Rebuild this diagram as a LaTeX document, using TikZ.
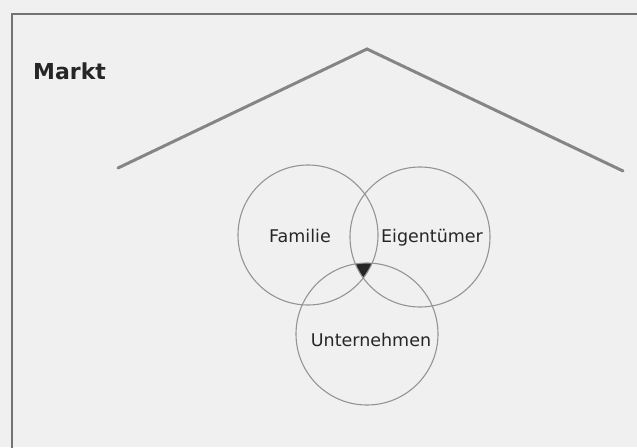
\documentclass[tikz,border=0pt]{standalone}
\usepackage{fontspec}
\setmainfont{DejaVu Sans}
\begin{document}
\begin{tikzpicture}[x=1pt,y=-1pt,
  frameline/.style={draw=black!55,line width=2pt},
  roofline/.style={draw=black!48,line width=3pt,line cap=round,line join=miter},
  ring/.style={draw=black!42,line width=1.1pt},
  lbl/.style={font=\fontsize{17.5}{19}\selectfont,text=black!85,inner sep=0pt}]
\useasboundingbox (0,0) rectangle (637,447);
\fill[black!6] (0,0) rectangle (637,447);
\draw[frameline] (12,460) -- (12,14) -- (650,14);
\node[font=\bfseries\fontsize{22}{24}\selectfont,text=black!85,anchor=base west,inner sep=0pt] (markt) at (33,79) {Markt};
\coordinate (rl) at (118,168);
\coordinate (ra) at (367,49);
\coordinate (rr) at (623,171);
\draw[roofline] (rl) -- (ra) -- (rr);
\coordinate (cf) at (308,235);
\coordinate (ce) at (420,237);
\coordinate (cu) at (367,334);
\begin{scope}
  \clip (cf) circle (70);
  \clip (ce) circle (70);
  \fill[black!85] (cu) circle (71);
\end{scope}
\draw[ring] (cf) circle (70);
\draw[ring] (ce) circle (70);
\draw[ring] (cu) circle (71);
\node[lbl] (familie) at (300,236) {Familie};
\node[lbl] (eigen) at (432,238) {Eigentümer};
\node[lbl] (unter) at (371,340) {Unternehmen};
\end{tikzpicture}
\end{document}
